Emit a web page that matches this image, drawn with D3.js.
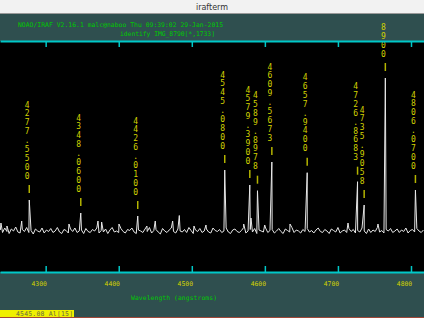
<!DOCTYPE html>
<html>
<head>
<meta charset="utf-8">
<script src="https://cdn.jsdelivr.net/npm/d3@7"></script>
<style>
  body { margin: 0; background: #2f4f4f; overflow: hidden; }
  svg { display: block; }
</style>
</head>
<body>
<div id="plot"></div>
<script>
// identify plot of an arc spectrum, IRAF style

const xDomain = [4237.5, 4817.8];
const yDomain = [0, 2310];
const tickValues = [4300, 4400, 4500, 4600, 4700, 4800];

// continuum samples, one every 3 angstroms from 4238
const contStart = 4238;
const contStep = 3;
const contFlux = [
  420,395,440,405,385,430,410,450,400,390,425,405,445,395,415,380,430,410,400,440,
  390,420,405,435,395,410,445,400,385,425,415,390,430,405,440,395,410,420,385,435,
  405,395,425,410,440,390,415,400,430,385,420,445,400,410,395,435,405,390,425,415,
  440,400,385,420,410,395,430,405,445,390,415,425,400,380,435,410,395,420,440,405,
  390,430,410,400,425,395,445,415,385,420,405,435,395,410,430,400,390,440,415,405,
  425,395,410,440,400,385,420,430,405,395,415,445,390,410,425,400,435,385,420,410,
  400,440,395,415,425,390,410,435,405,385,430,415,400,445,395,420,410,390,425,405,
  435,400,415,390,420,440,405,395,425,410,385,430,415,400,445,390,410,420,395,435,
  405,425,390,415,400,440,410,385,430,395,420,405,445,400,415,390,425,410,435,395,
  410,430,395,420,405,440,390,415,425,400,435,410,395,420
];

// weak unidentified features
const weakWave = [4238.8, 4247.0, 4267.2, 4331.9, 4371.6, 4376.6, 4400.3, 4438.6, 4450.0,
  4473.8, 4482.9, 4503.0, 4519.4, 4571.0, 4581.0, 4599.8, 4634.4, 4713.8, 4754.8];
const weakFlux = [490, 460, 510, 480, 510, 500, 480, 460, 510,
  510, 565, 460, 470, 480, 540, 470, 480, 490, 480];

// identified lines
const lineWave = [4277.55, 4348.06, 4426.01, 4545.08, 4579.39, 4589.8978,
  4609.5673, 4657.94, 4726.8683, 4735.9058, 4764.89, 4806.07];
const lineFlux = [720, 590, 560, 1020, 870, 813, 1100, 993, 903, 670, 1940, 820];

const headerLine1 = "NOAO/IRAF V2.16.1 malc@naboo Thu 09:39:02 29-Jan-2015";
const headerLine2 = "identify IMG_8790[*,1733]";
const xLabel = "Wavelength (angstroms)";
const statusText = "4545.08 Al[15]";

const width = 424;
const height = 318;
const plotTop = 41;
const plotBottom = 272;
const labelTop = 23; // label characters above this are hidden by the header
const slate = "#2f4f4f";
const cyan = "#00c8c8";
const yellow = "#d2d200";
const green = "#00c800";
const mono = "'DejaVu Sans Mono', monospace";

const svg = d3.select("#plot").append("svg")
  .attr("width", width)
  .attr("height", height);

const x = d3.scaleLinear().domain(xDomain).range([0, width]);
const y = d3.scaleLinear().domain(yDomain).range([plotBottom, plotTop]);

// backgrounds
svg.append("rect").attr("width", width).attr("height", height).attr("fill", slate);
svg.append("rect")
  .attr("x", 0).attr("y", plotTop)
  .attr("width", width).attr("height", plotBottom - plotTop)
  .attr("fill", "#000");

// build the spectrum from continuum + features, sorted by wavelength
let points = contFlux.map((f, i) => ({ w: contStart + i * contStep, f: f }));
weakWave.forEach((w, i) => points.push({ w: w, f: weakFlux[i] }));
lineWave.forEach((w, i) => points.push({ w: w, f: lineFlux[i] }));
points.sort((a, b) => a.w - b.w);

const line = d3.line().x(d => x(d.w)).y(d => y(d.f));

svg.append("path")
  .datum(points)
  .attr("d", line)
  .attr("fill", "none")
  .attr("stroke", "#e8e8e8")
  .attr("stroke-width", 1);

// line marks and vertical labels
const labels = svg.append("g");

lineWave.forEach((w, i) => {
  const px = x(w);
  const py = y(lineFlux[i]);
  labels.append("line")
    .attr("x1", px).attr("x2", px)
    .attr("y1", py - 15).attr("y2", py - 7)
    .attr("stroke", "#b4b400")
    .attr("stroke-width", 1.5);

  const txt = w.toFixed(4).split("");
  txt.forEach((c, j) => {
    const cy = py - 24 - (txt.length - 1 - j) * 8.875;
    if (cy < labelTop) return; // hidden under the header
    labels.append("text")
      .attr("x", px - 2)
      .attr("y", cy)
      .attr("text-anchor", "middle")
      .attr("dominant-baseline", "central")
      .style("font-family", mono)
      .style("font-size", "8px")
      .attr("fill", yellow)
      .text(c);
  });
});

// bottom axis with labels
const xAxisBottom = svg.append("g")
  .attr("transform", `translate(0,${plotBottom})`)
  .call(d3.axisBottom(x).tickValues(tickValues).tickSizeInner(-6).tickSizeOuter(0).tickFormat(d3.format("d")));

xAxisBottom.select(".domain").attr("stroke", cyan).attr("stroke-width", 2);
xAxisBottom.selectAll(".tick line").attr("stroke", cyan).attr("stroke-width", 1.5);
xAxisBottom.selectAll(".tick text")
  .attr("x", -7)
  .attr("y", 12)
  .attr("dy", null)
  .attr("dominant-baseline", "central")
  .attr("fill", yellow)
  .style("font-family", mono)
  .style("font-size", "6.4px");

// top axis, ticks only
const xAxisTop = svg.append("g")
  .attr("transform", `translate(0,${plotTop})`)
  .call(d3.axisTop(x).tickValues(tickValues).tickSizeInner(-6).tickSizeOuter(0).tickFormat(""));

xAxisTop.select(".domain").attr("stroke", cyan).attr("stroke-width", 2);
xAxisTop.selectAll(".tick line").attr("stroke", cyan).attr("stroke-width", 1.5);

// header text
svg.append("text")
  .attr("x", 18).attr("y", 25)
  .attr("dominant-baseline", "central")
  .attr("textLength", 205)
  .attr("fill", green)
  .style("font-family", mono)
  .style("font-size", "6.4px")
  .text(headerLine1);

svg.append("text")
  .attr("x", 120).attr("y", 34)
  .attr("dominant-baseline", "central")
  .attr("textLength", 95)
  .attr("fill", green)
  .style("font-family", mono)
  .style("font-size", "6.4px")
  .text(headerLine2);

// x axis title
svg.append("text")
  .attr("x", 131).attr("y", 298)
  .attr("dominant-baseline", "central")
  .attr("textLength", 86)
  .attr("fill", green)
  .style("font-family", mono)
  .style("font-size", "6.4px")
  .text(xLabel);

// status line
svg.append("rect")
  .attr("x", 0).attr("y", 310)
  .attr("width", 74).attr("height", 7)
  .attr("fill", "#f0f000");

svg.append("text")
  .attr("x", 16).attr("y", 313.5)
  .attr("dominant-baseline", "central")
  .attr("textLength", 57)
  .attr("fill", "#6a6a40")
  .style("font-family", mono)
  .style("font-size", "6.4px")
  .text(statusText);

svg.append("line")
  .attr("x1", 0).attr("x2", width)
  .attr("y1", 317.5).attr("y2", 317.5)
  .attr("stroke", "#a04838");

// window title bar
svg.append("rect")
  .attr("width", width).attr("height", 14)
  .attr("fill", "#f2f2f2");

svg.append("line")
  .attr("x1", 0).attr("x2", width)
  .attr("y1", 13.5).attr("y2", 13.5)
  .attr("stroke", "#9a9a9a");

svg.append("text")
  .attr("x", width / 2).attr("y", 7)
  .attr("text-anchor", "middle")
  .attr("dominant-baseline", "central")
  .attr("fill", "#333")
  .style("font-family", "'DejaVu Sans', sans-serif")
  .style("font-size", "8px")
  .text("irafterm");
</script>
</body>
</html>
